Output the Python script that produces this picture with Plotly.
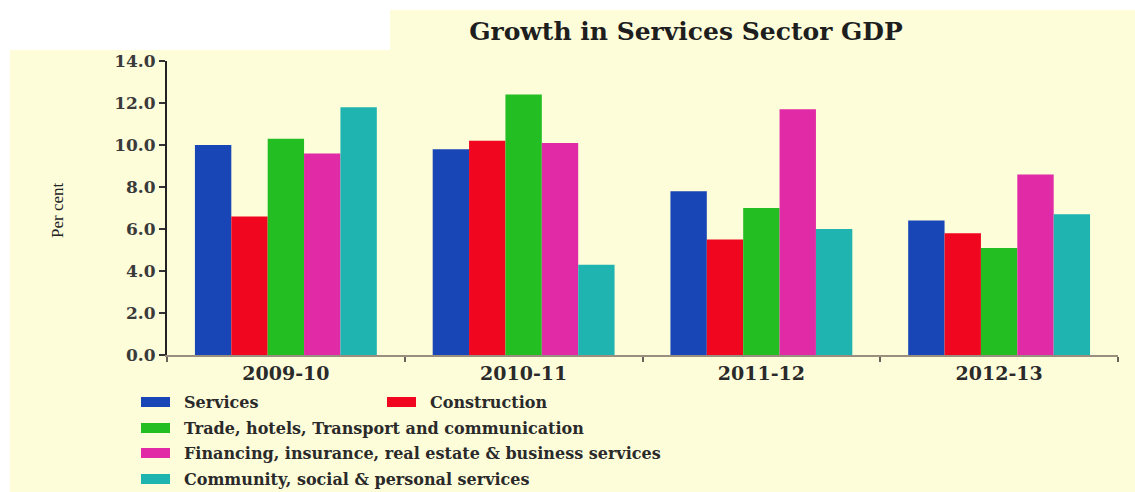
import plotly.graph_objects as go

# ---- data ----
years = ["2009-10", "2010-11", "2011-12", "2012-13"]
series_names = [
    "Services",
    "Construction",
    "Trade, hotels, Transport and communication",
    "Financing, insurance, real estate & business services",
    "Community, social & personal services",
]
services = [10.0, 9.8, 7.8, 6.4]
construction = [6.6, 10.2, 5.5, 5.8]
trade = [10.3, 12.4, 7.0, 5.1]
financing = [9.6, 10.1, 11.7, 8.6]
community = [11.8, 4.3, 6.0, 6.7]
y_tick_values = [0, 2, 4, 6, 8, 10, 12, 14]
chart_title = "Growth in Services Sector GDP"
y_title = "Per cent"

# ---- styles ----
colors = ["#1846B6", "#F0061E", "#22BE22", "#E02AA6", "#20B4B0"]
cream = "#FDFDDA"
W, H = 1135, 492
L, R, T, B = 167, 17, 61, 137
PW, PH = W - L - R, H - T - B
SERIF = "DejaVu Serif, serif"


def px_x(p):
    return (p - L) / PW


def px_y(p):
    return (H - B - p) / PH


fig = go.Figure()
all_values = [services, construction, trade, financing, community]
for name, vals, col in zip(series_names, all_values, colors):
    fig.add_trace(go.Bar(x=years, y=vals, name=name, marker=dict(color=col, line=dict(width=0)),
                         showlegend=False))

# background panels
shapes = [
    dict(type="rect", xref="paper", yref="paper", layer="below",
         x0=px_x(10), x1=px_x(W + 5), y0=px_y(H + 5), y1=px_y(50),
         fillcolor=cream, line=dict(width=0)),
    dict(type="rect", xref="paper", yref="paper", layer="below",
         x0=px_x(390), x1=px_x(W + 5), y0=px_y(51), y1=px_y(10),
         fillcolor=cream, line=dict(width=0)),
]

# manual legend layout (row centre y, swatch left x, text left x)
legend_slots = [(402, 141, 182), (402, 387, 428), (428, 141, 182), (453, 141, 182), (479, 141, 182)]
annotations = []
for name, col, (cy, sx, tx) in zip(series_names, colors, legend_slots):
    shapes.append(dict(type="rect", xref="paper", yref="paper",
                       x0=px_x(sx), x1=px_x(sx + 29), y0=px_y(cy + 5), y1=px_y(cy - 5),
                       fillcolor=col, line=dict(width=0)))
    annotations.append(dict(text=name, xref="paper", yref="paper", x=px_x(tx), y=px_y(cy),
                            xanchor="left", yanchor="middle", showarrow=False,
                            font=dict(family=SERIF, size=16, color="#2a2a2a", weight="bold")))

annotations.append(dict(text=y_title, xref="paper", yref="paper", x=px_x(57), y=px_y(210),
                        xanchor="center", yanchor="middle", textangle=-90, showarrow=False,
                        font=dict(family="Liberation Serif, serif", size=17, color="#222222")))

fig.update_layout(
    width=W, height=H,
    margin=dict(l=L, r=R, t=T, b=B, pad=0),
    paper_bgcolor="white",
    plot_bgcolor=cream,
    barmode="group",
    bargap=0.235,
    bargroupgap=0,
    title=dict(text=chart_title, xref="container", yref="container", x=686 / W, y=1 - 31 / H,
               xanchor="center", yanchor="middle",
               font=dict(family=SERIF, size=25, color="#1e1e1e", weight="bold")),
    shapes=shapes,
    annotations=annotations,
    xaxis=dict(type="category", range=[-0.5, 3.5], showline=True, linecolor="#9a8f7e", linewidth=1.5,
               ticks="outside", tickson="boundaries", ticklen=5, tickcolor="#6a6258", tickwidth=1.5,
               showgrid=False, zeroline=False,
               tickfont=dict(family=SERIF, size=19, color="#2a2a2a", weight="bold")),
    yaxis=dict(range=[0, 14], tickvals=y_tick_values, tickformat=".1f", showline=True,
               linecolor="#222222", linewidth=2, ticks="outside", ticklen=6, tickcolor="#333333",
               tickwidth=1.5, showgrid=False, zeroline=False,
               tickfont=dict(family=SERIF, size=17, color="#3a3a3a", weight="bold")),
)

fig.write_html("out.html")
